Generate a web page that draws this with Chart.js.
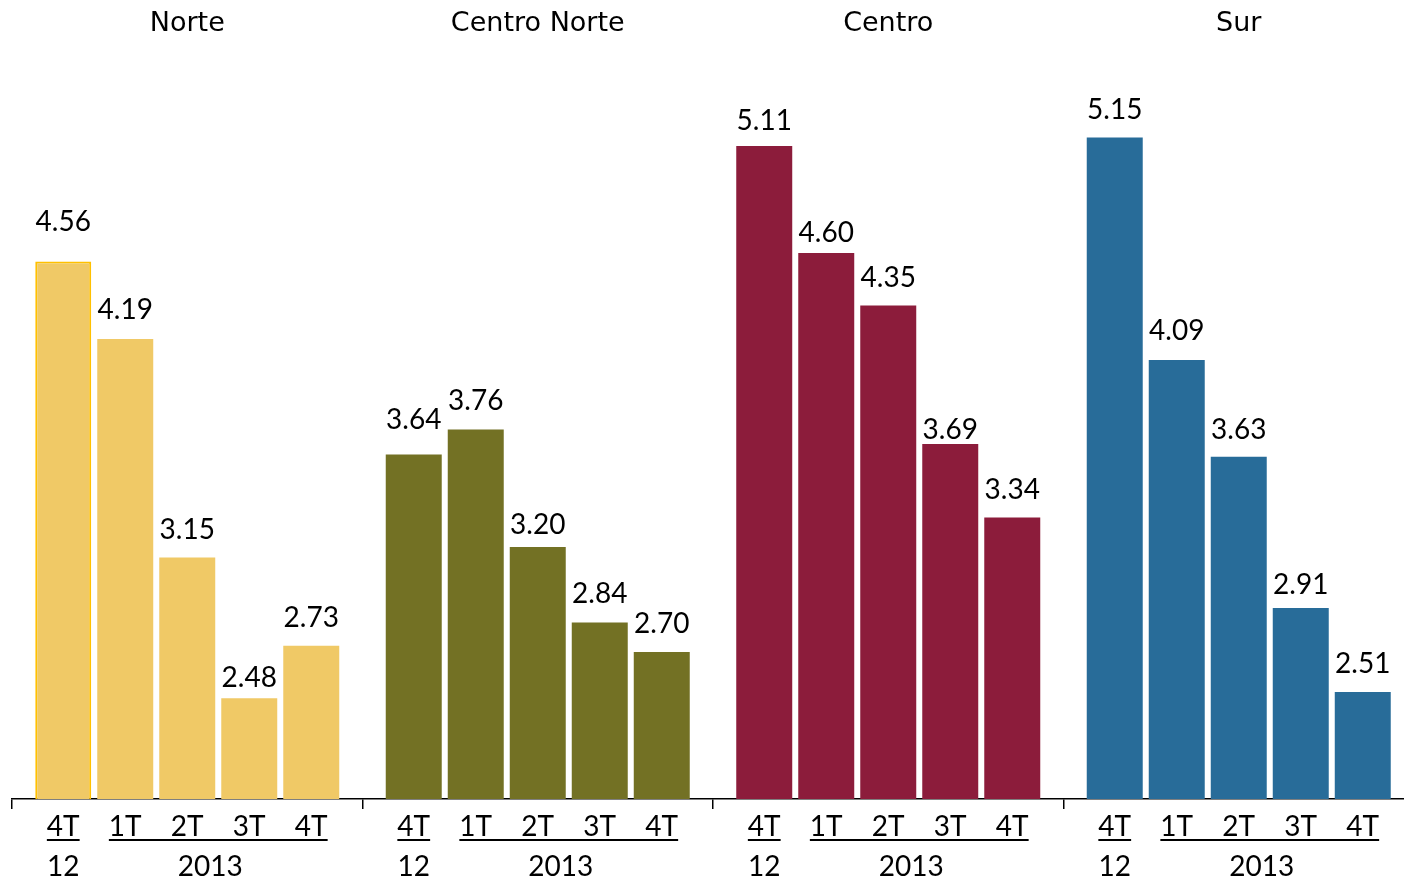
<!DOCTYPE html>
<html>
<head>
<meta charset="utf-8">
<script src="https://cdn.jsdelivr.net/npm/chart.js@4.4.1/dist/chart.umd.min.js"></script>
<style>
html,body{margin:0;padding:0;background:#fff;overflow:hidden;}
#wrap{width:1418px;height:880px;}
</style>
</head>
<body>
<div id="wrap"><canvas id="c" width="1418" height="880"></canvas></div>
<script>
// ---- data ----
const regions = ['Norte', 'Centro Norte', 'Centro', 'Sur'];
const quarters = ['4T', '1T', '2T', '3T', '4T'];
const yearLabels = ['12', '2013'];
const norte = [4.56, 4.19, 3.15, 2.48, 2.73];
const centroNorte = [3.64, 3.76, 3.20, 2.84, 2.70];
const centro = [5.11, 4.60, 4.35, 3.69, 3.34];
const sur = [5.15, 4.09, 3.63, 2.91, 2.51];
const regionColors = ['#F0C966', '#737124', '#8C1C3B', '#286C99'];
// label gap (px above bar top, to label centre) as placed in the original
const labelGap = [
  [40, 30, 29, 21, 29],
  [36, 29, 23, 30, 29],
  [26, 21, 29, 15, 29],
  [29, 30, 28, 24, 29]
];

const seriesByRegion = [norte, centroNorte, centro, sur];
const datasets = quarters.map((q, qi) => ({
  label: q + (qi === 0 ? ' ' + yearLabels[0] : ' ' + yearLabels[1]),
  data: seriesByRegion.map(s => s[qi]),
  backgroundColor: regionColors,
  borderColor: qi === 0 ? ['#FFC000', 'rgba(0,0,0,0)', 'rgba(0,0,0,0)', 'rgba(0,0,0,0)'] : 'rgba(0,0,0,0)',
  borderWidth: qi === 0 ? [2, 0, 0, 0] : 0,
  borderSkipped: 'bottom',
  categoryPercentage: 0.8845,
  barPercentage: 0.903
}));

const labelFont = '28px Lato, "Open Sans", sans-serif';
const titleFont = '27px "DejaVu Sans", sans-serif';

const annotatePlugin = {
  id: 'annotate',
  afterDatasetsDraw(chart) {
    const ctx = chart.ctx;
    const xs = chart.scales.x;
    ctx.save();
    ctx.fillStyle = '#000';
    ctx.strokeStyle = '#000';
    // titles
    ctx.font = titleFont;
    ctx.textAlign = 'center';
    ctx.textBaseline = 'alphabetic';
    regions.forEach((r, i) => {
      ctx.fillText(r, xs.getPixelForValue(i), 31);
    });
    // value labels and axis labels
    ctx.font = labelFont;
    const metas = chart.data.datasets.map((d, i) => chart.getDatasetMeta(i));
    for (let ri = 0; ri < regions.length; ri++) {
      const bars = metas.map(m => m.data[ri]);
      bars.forEach((b, qi) => {
        const v = chart.data.datasets[qi].data[ri];
        ctx.textAlign = 'center';
        ctx.fillText(v.toFixed(2), b.x, b.y - labelGap[ri][qi] + 10);
        ctx.fillText(quarters[qi], b.x, 836);
      });
      // underlines
      ctx.lineWidth = 2;
      const w0 = ctx.measureText(quarters[0]).width;
      ctx.beginPath();
      ctx.moveTo(bars[0].x - w0 / 2, 840);
      ctx.lineTo(bars[0].x + w0 / 2, 840);
      const w1 = ctx.measureText(quarters[1]).width;
      const w4 = ctx.measureText(quarters[4]).width;
      ctx.moveTo(bars[1].x - w1 / 2, 840);
      ctx.lineTo(bars[4].x + w4 / 2, 840);
      ctx.stroke();
      // year labels
      ctx.fillText(yearLabels[0], bars[0].x, 876);
      ctx.fillText(yearLabels[1], (bars[1].x + bars[4].x) / 2 - 8, 876);
    }
    ctx.restore();
  }
};

new Chart(document.getElementById('c'), {
  type: 'bar',
  data: { labels: regions, datasets },
  options: {
    responsive: false,
    devicePixelRatio: 1,
    animation: false,
    layout: { padding: { left: 12, right: 4, top: 64, bottom: 0 } },
    plugins: { legend: { display: false }, tooltip: { enabled: false } },
    scales: {
      x: {
        offset: true,
        ticks: { display: false },
        grid: { offset: true, drawOnChartArea: false, drawTicks: true, tickLength: 10, color: '#000', lineWidth: 1.5 },
        border: { display: true, color: '#000', width: 1.5 },
        afterFit(scale) { scale.height = 81; }
      },
      y: { display: false, min: 2, max: 5.5 }
    }
  },
  plugins: [annotatePlugin]
});
</script>
</body>
</html>
